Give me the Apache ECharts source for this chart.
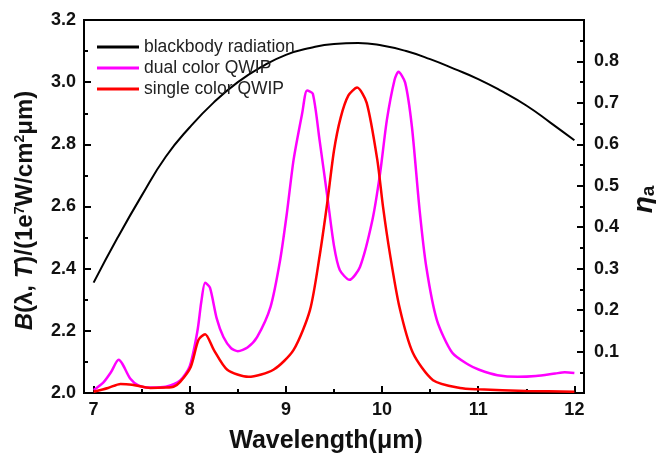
<!DOCTYPE html>
<html>
<head>
<meta charset="utf-8">
<script src="https://cdn.jsdelivr.net/npm/echarts@6/dist/echarts.min.js"></script>
<style>
html,body{margin:0;padding:0;background:#fff;}
#main{width:656px;height:457px;}
</style>
</head>
<body>
<div id="main"></div>
<script>
// blackbody radiation, left axis
var bbLambda = [7.0, 7.25, 7.5, 7.75, 8.0, 8.25, 8.5, 8.75, 9.0, 9.25, 9.5, 9.75, 10.0, 10.25, 10.5, 10.75, 11.0, 11.25, 11.5, 11.75, 12.0];
var bbValue = [2.355, 2.50, 2.635, 2.76, 2.855, 2.935, 3.0, 3.05, 3.088, 3.11, 3.123, 3.126, 3.118, 3.10, 3.074, 3.043, 3.01, 2.97, 2.925, 2.87, 2.813];

// dual color QWIP, right axis
var dualLambda = [7.0, 7.1, 7.18, 7.26, 7.3, 7.38, 7.47, 7.6, 7.75, 7.9, 8.0, 8.08, 8.12, 8.16, 8.21, 8.28, 8.35, 8.43, 8.5, 8.6, 8.7, 8.84, 8.94, 9.01, 9.08, 9.17, 9.22, 9.28, 9.35, 9.43, 9.5, 9.56, 9.66, 9.77, 9.9, 9.98, 10.05, 10.13, 10.17, 10.24, 10.31, 10.39, 10.46, 10.57, 10.73, 10.9, 11.01, 11.2, 11.41, 11.6, 11.8, 11.9, 12.0];
var dualValue = [0.007, 0.025, 0.05, 0.08, 0.07, 0.035, 0.018, 0.013, 0.015, 0.03, 0.065, 0.15, 0.22, 0.266, 0.254, 0.18, 0.135, 0.108, 0.101, 0.11, 0.135, 0.208, 0.321, 0.434, 0.563, 0.676, 0.730, 0.722, 0.61, 0.475, 0.355, 0.297, 0.273, 0.304, 0.418, 0.531, 0.659, 0.756, 0.775, 0.749, 0.643, 0.442, 0.304, 0.176, 0.097, 0.068, 0.056, 0.043, 0.039, 0.041, 0.047, 0.05, 0.048];

// single color QWIP, right axis
var singleLambda = [7.0, 7.15, 7.28, 7.4, 7.59, 7.75, 7.83, 7.9, 8.01, 8.09, 8.16, 8.25, 8.39, 8.61, 8.87, 9.08, 9.25, 9.35, 9.43, 9.5, 9.57, 9.65, 9.74, 9.84, 9.95, 10.01, 10.08, 10.18, 10.32, 10.53, 10.81, 11.0, 11.5, 12.0];
var singleValue = [0.003, 0.012, 0.022, 0.02, 0.012, 0.013, 0.015, 0.027, 0.063, 0.128, 0.142, 0.104, 0.056, 0.039, 0.056, 0.104, 0.200, 0.33, 0.459, 0.585, 0.665, 0.718, 0.737, 0.700, 0.563, 0.449, 0.338, 0.208, 0.097, 0.031, 0.012, 0.009, 0.005, 0.003];

var xMajor = [7, 8, 9, 10, 11, 12];
var xMinor = [7.5, 8.5, 9.5, 10.5, 11.5];

function pairs(xs, ys)
{
	var out = [];
	for (var i = 0; i < xs.length; i++) out.push([xs[i], ys[i]]);
	return out;
}

var font = 'Liberation Sans';
var labelStyle = {color: '#111', fontFamily: font, fontWeight: 'bold', fontSize: 18};

myChart = echarts.init(document.getElementById('main'));
myChart.setOption({
	animation: false,
	grid: {left: 84, right: 72, top: 20, bottom: 64, outerBoundsMode: 'none', containLabel: false, show: true, borderColor: '#000', borderWidth: 2},
	legend: {
		orient: 'vertical', left: 92, top: 33, itemGap: 3, itemWidth: 42, itemHeight: 3, icon: 'rect',
		textStyle: {fontFamily: font, fontSize: 17.5, color: '#222'},
		data: ['blackbody radiation', 'dual color QWIP', 'single color QWIP']
	},
	xAxis: [{
		type: 'value', min: 6.9, max: 12.1, position: 'bottom',
		name: 'Wavelength(μm)', nameLocation: 'middle', nameGap: 36,
		nameTextStyle: {color: '#111', fontFamily: font, fontWeight: 'bold', fontSize: 25, padding: [0, 16, 0, 0]},
		axisLine: {lineStyle: {color: '#000', width: 2}},
		axisTick: {inside: true, length: 7, lineStyle: {color: '#000', width: 2}, customValues: xMajor},
		axisLabel: Object.assign({margin: 8, customValues: xMajor}, labelStyle),
		splitLine: {show: false}
	}, {
		type: 'value', min: 6.9, max: 12.1, position: 'bottom',
		axisLine: {show: false},
		axisTick: {inside: true, length: 4, lineStyle: {color: '#000', width: 2}, customValues: xMinor},
		axisLabel: {show: false, customValues: xMinor},
		splitLine: {show: false}
	}],
	yAxis: [{
		type: 'value', min: 2.0, max: 3.2, interval: 0.2, position: 'left',
		name: '{i|B}{n|(λ, }{i|T}{n|)/(1e}{s|7}{n|W/cm}{s|2}{n|μm)}',
		nameLocation: 'middle', nameGap: 47, nameRotate: 90,
		nameTextStyle: {
			color: '#111', fontFamily: font, fontWeight: 'bold', fontSize: 24, padding: [0, 8, 0, 0],
			rich: {
				i: {fontFamily: font, fontWeight: 'bold', fontStyle: 'italic', fontSize: 24, color: '#111'},
				n: {fontFamily: font, fontWeight: 'bold', fontSize: 24, color: '#111'},
				s: {fontFamily: font, fontWeight: 'bold', fontSize: 14, color: '#111', verticalAlign: 'top'}
			}
		},
		axisLine: {show: true, lineStyle: {color: '#000', width: 2}},
		axisTick: {show: true, inside: true, length: 7, lineStyle: {color: '#000', width: 2}},
		minorTick: {show: true, splitNumber: 2, length: 4, lineStyle: {color: '#000', width: 2}},
		axisLabel: Object.assign({margin: 8, formatter: function (v) { return v.toFixed(1); }}, labelStyle),
		splitLine: {show: false}
	}, {
		type: 'value', min: 0, max: 0.9, interval: 0.1, position: 'right',
		name: '{e|η}{a|a}', nameLocation: 'middle', nameGap: 44, nameRotate: 90,
		nameTextStyle: {
			color: '#111', fontFamily: font, fontWeight: 'bold', fontSize: 28, padding: [0, 0, 0, 14],
			rich: {
				e: {fontFamily: font, fontWeight: 'bold', fontStyle: 'italic', fontSize: 28, color: '#111'},
				a: {fontFamily: font, fontWeight: 'bold', fontSize: 19, color: '#111', verticalAlign: 'bottom'}
			}
		},
		axisLine: {show: true, lineStyle: {color: '#000', width: 2}},
		axisTick: {show: true, inside: true, length: 7, lineStyle: {color: '#000', width: 2}},
		minorTick: {show: true, splitNumber: 2, length: 4, lineStyle: {color: '#000', width: 2}},
		axisLabel: Object.assign({margin: 10, showMinLabel: false, showMaxLabel: false, formatter: function (v) { return v.toFixed(1); }}, labelStyle),
		splitLine: {show: false}
	}],
	series: [{
		name: 'blackbody radiation', type: 'line', yAxisIndex: 0, showSymbol: false, smooth: true,
		itemStyle: {color: '#000'}, lineStyle: {color: '#000', width: 2},
		data: pairs(bbLambda, bbValue)
	}, {
		name: 'dual color QWIP', type: 'line', yAxisIndex: 1, showSymbol: false, smooth: 0.25,
		itemStyle: {color: '#ff00ff'}, lineStyle: {color: '#ff00ff', width: 2.5},
		data: pairs(dualLambda, dualValue)
	}, {
		name: 'single color QWIP', type: 'line', yAxisIndex: 1, showSymbol: false, smooth: 0.25,
		itemStyle: {color: '#ff0000'}, lineStyle: {color: '#ff0000', width: 2.5},
		data: pairs(singleLambda, singleValue)
	}]
});
</script>
</body>
</html>
